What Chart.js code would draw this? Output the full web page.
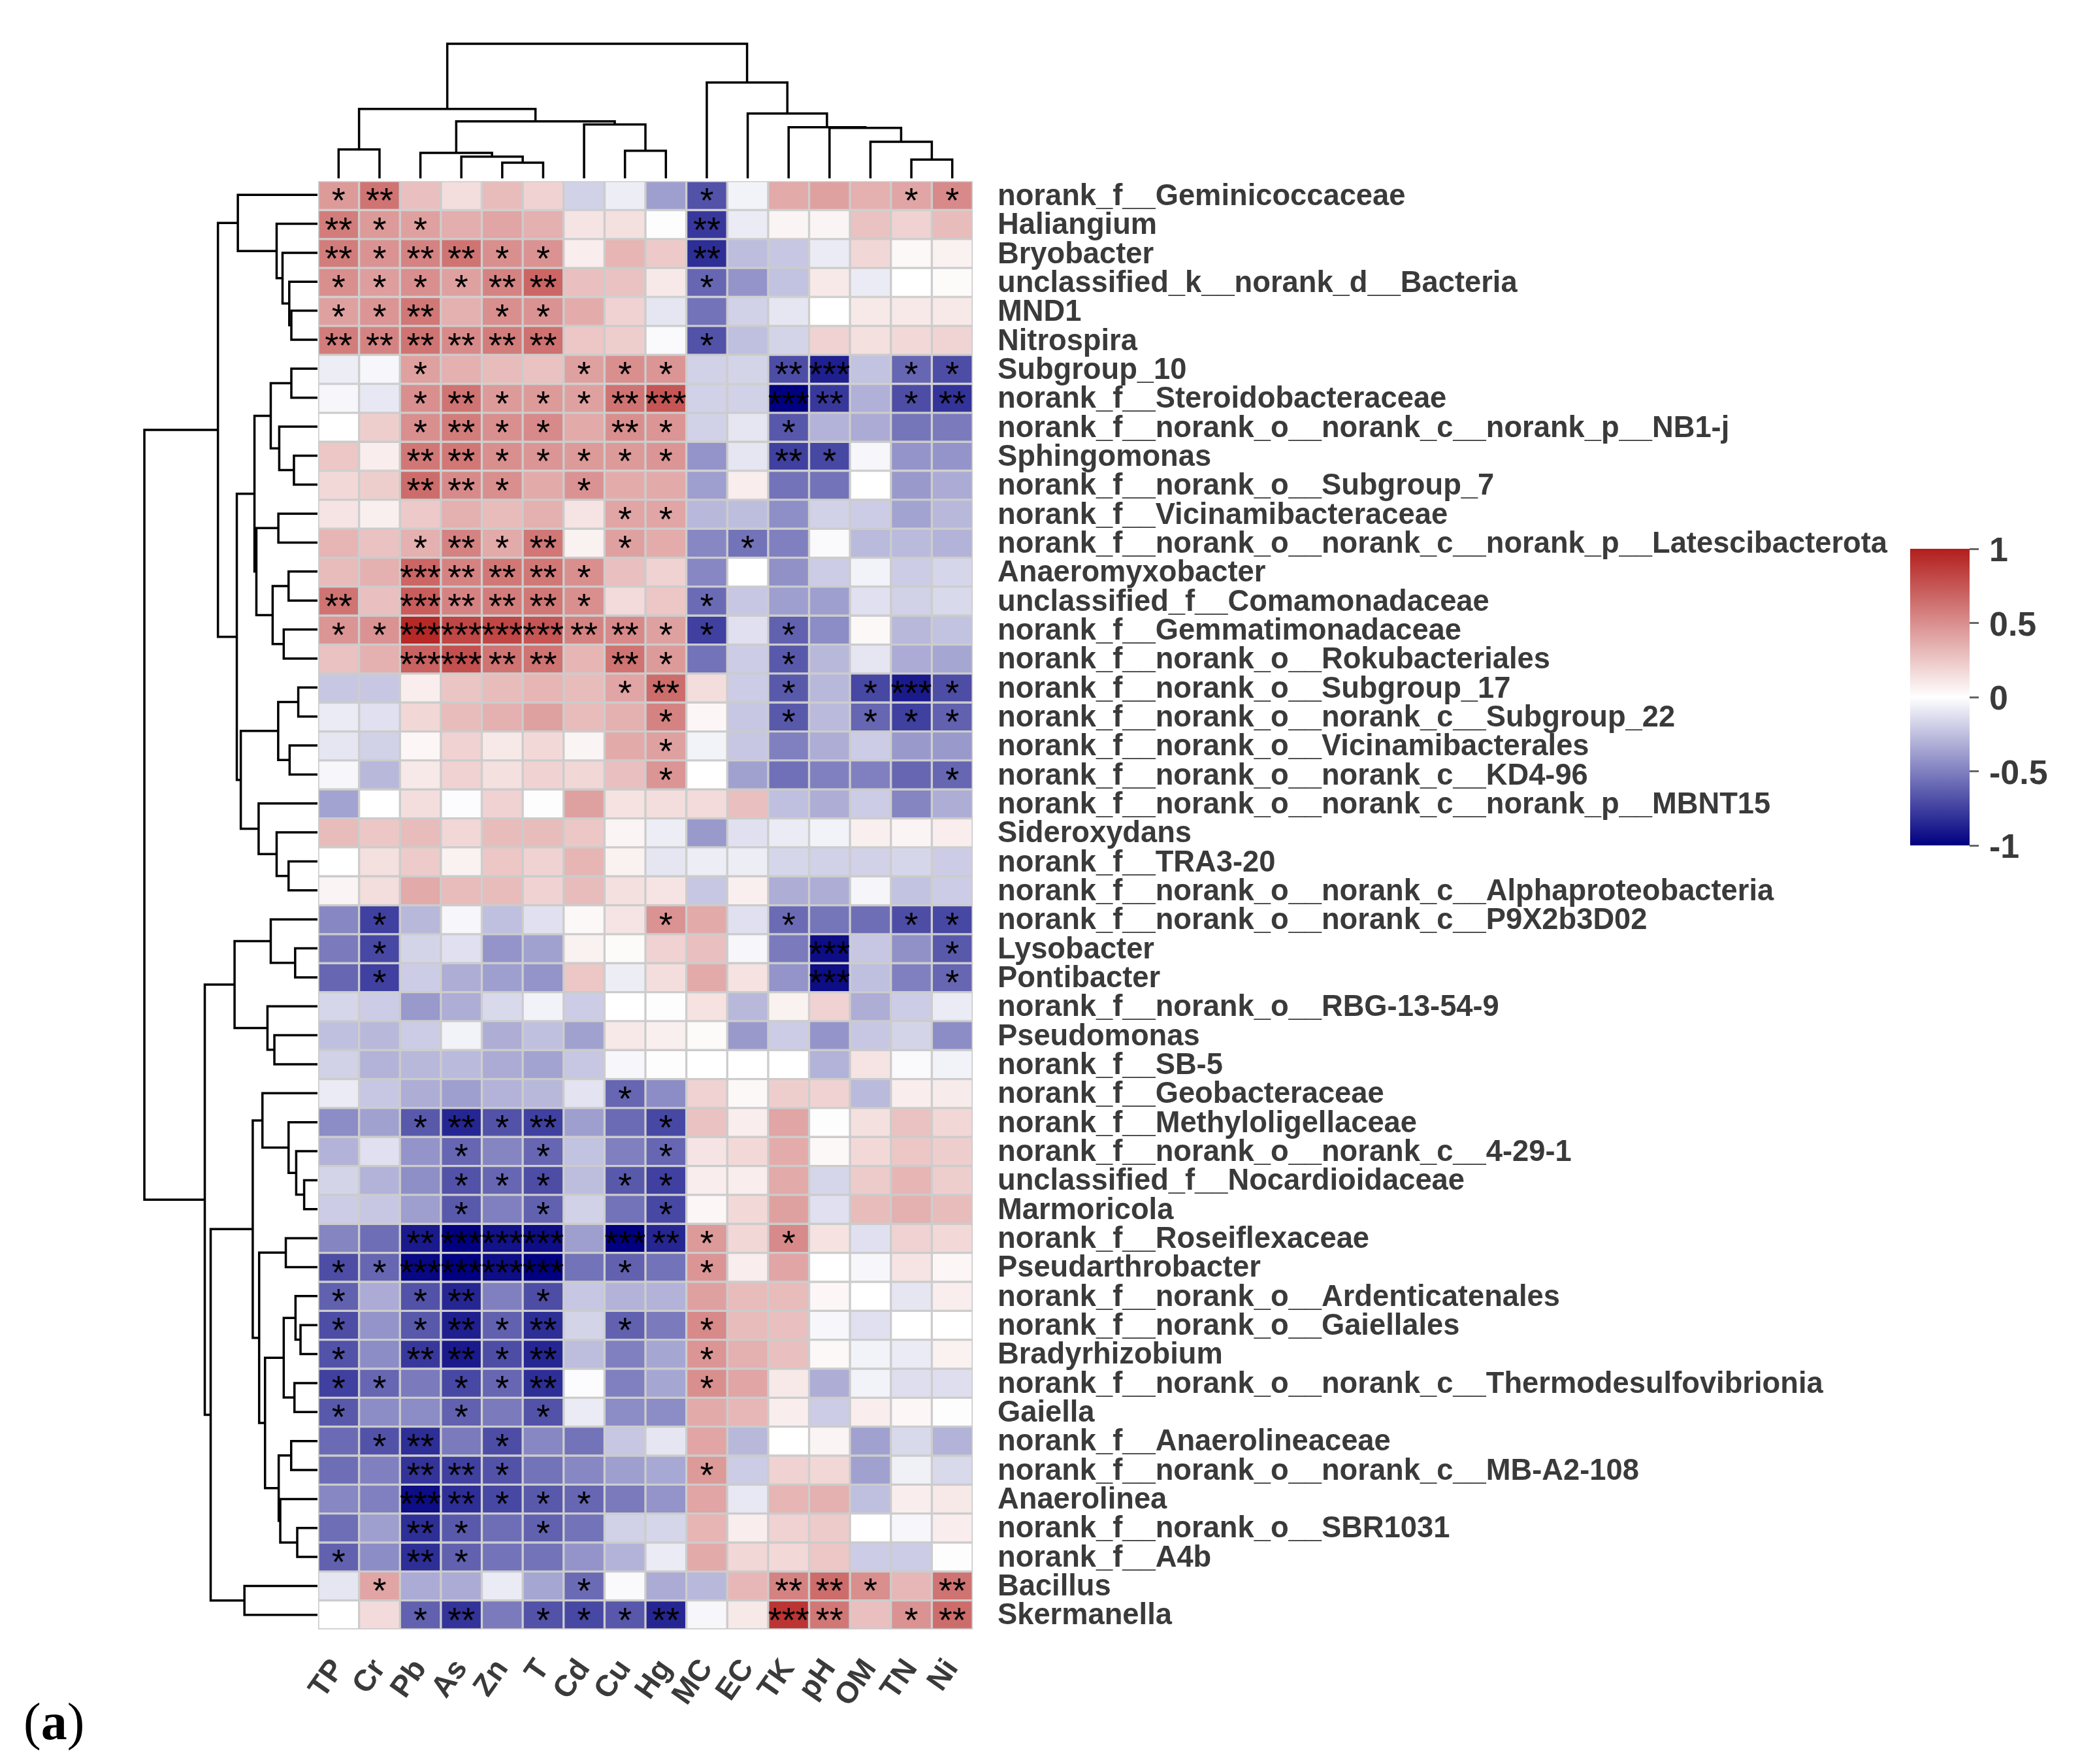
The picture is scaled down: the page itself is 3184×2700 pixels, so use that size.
<!DOCTYPE html>
<html>
<head>
<meta charset="utf-8">
<title>Correlation heatmap</title>
<script src="https://cdn.jsdelivr.net/npm/chart.js@4"></script>
<style>
  body { margin: 0; background: #fff; }
  canvas { position: absolute; }
  #panelLabel { position: absolute; left: 36px; top: 2590px; font: 80px 'Liberation Serif', serif; color: #000; }
</style>
</head>
<body>
<canvas id="topTree" width="1100" height="236" style="left:420px;top:40px"></canvas>
<canvas id="leftTree" width="320" height="2440" style="left:180px;top:230px"></canvas>
<canvas id="heat" width="2784" height="2480" style="left:400px;top:220px"></canvas>
<canvas id="legendBar" width="344" height="620" style="left:2840px;top:760px"></canvas>
<div id="panelLabel">(<b>a</b>)</div>
<script>
const colNames = ['TP', 'Cr', 'Pb', 'As', 'Zn', 'T', 'Cd', 'Cu', 'Hg', 'MC', 'EC', 'TK', 'pH', 'OM', 'TN', 'Ni'];

const rowNames = [
  'norank_f__Geminicoccaceae', 'Haliangium', 'Bryobacter', 'unclassified_k__norank_d__Bacteria', 'MND1',
  'Nitrospira', 'Subgroup_10', 'norank_f__Steroidobacteraceae', 'norank_f__norank_o__norank_c__norank_p__NB1-j',
  'Sphingomonas', 'norank_f__norank_o__Subgroup_7', 'norank_f__Vicinamibacteraceae',
  'norank_f__norank_o__norank_c__norank_p__Latescibacterota', 'Anaeromyxobacter', 'unclassified_f__Comamonadaceae',
  'norank_f__Gemmatimonadaceae', 'norank_f__norank_o__Rokubacteriales', 'norank_f__norank_o__Subgroup_17',
  'norank_f__norank_o__norank_c__Subgroup_22', 'norank_f__norank_o__Vicinamibacterales',
  'norank_f__norank_o__norank_c__KD4-96', 'norank_f__norank_o__norank_c__norank_p__MBNT15', 'Sideroxydans',
  'norank_f__TRA3-20', 'norank_f__norank_o__norank_c__Alphaproteobacteria', 'norank_f__norank_o__norank_c__P9X2b3D02',
  'Lysobacter', 'Pontibacter', 'norank_f__norank_o__RBG-13-54-9', 'Pseudomonas', 'norank_f__SB-5',
  'norank_f__Geobacteraceae', 'norank_f__Methyloligellaceae', 'norank_f__norank_o__norank_c__4-29-1',
  'unclassified_f__Nocardioidaceae', 'Marmoricola', 'norank_f__Roseiflexaceae', 'Pseudarthrobacter',
  'norank_f__norank_o__Ardenticatenales', 'norank_f__norank_o__Gaiellales', 'Bradyrhizobium',
  'norank_f__norank_o__norank_c__Thermodesulfovibrionia', 'Gaiella', 'norank_f__Anaerolineaceae',
  'norank_f__norank_o__norank_c__MB-A2-108', 'Anaerolinea', 'norank_f__norank_o__SBR1031', 'norank_f__A4b',
  'Bacillus', 'Skermanella'
];

// correlation, one row per taxon
const corr = [
  [.45, .62, .28, .15, .3, .2, -.18, -.07, -.38, -.68, -.05, .38, .42, .35, .4, .52],
  [.58, .45, .42, .36, .4, .35, .12, .14, .01, -.78, -.08, .05, .05, .27, .2, .3],
  [.58, .48, .55, .62, .5, .48, .08, .33, .24, -.82, -.26, -.22, -.08, .18, .03, .06],
  [.5, .43, .5, .42, .55, .68, .28, .27, .1, -.6, -.42, -.24, .1, -.08, 0, .02],
  [.42, .47, .6, .35, .5, .48, .37, .2, -.1, -.55, -.18, -.1, 0, .1, .1, .1],
  [.58, .55, .62, .52, .58, .63, .25, .22, -.02, -.68, -.25, -.17, .2, .14, .17, .19],
  [-.07, -.03, .42, .35, .3, .27, .42, .5, .47, -.18, -.17, -.7, -.88, -.24, -.6, -.7],
  [-.03, -.09, .5, .62, .45, .45, .42, .62, .75, -.18, -.18, -1, -.78, -.31, -.7, -.8],
  [0, .22, .5, .58, .5, .52, .38, .5, .47, -.18, -.1, -.66, -.3, -.33, -.54, -.52],
  [.25, .08, .6, .6, .5, .47, .45, .45, .47, -.42, -.1, -.75, -.72, -.03, -.42, -.42],
  [.17, .22, .65, .52, .5, .38, .48, .37, .38, -.38, .08, -.55, -.55, 0, -.4, -.33],
  [.12, .07, .24, .35, .3, .35, .12, .4, .4, -.28, -.26, -.44, -.18, -.2, -.36, -.28],
  [.33, .27, .35, .55, .38, .6, .06, .42, .37, -.47, -.55, -.5, -.02, -.27, -.27, -.3],
  [.3, .35, .68, .55, .6, .6, .5, .28, .2, -.47, 0, -.43, -.2, -.05, -.2, -.16],
  [.62, .28, .72, .55, .58, .6, .5, .16, .25, -.58, -.22, -.38, -.38, -.12, -.18, -.15],
  [.47, .48, .95, .82, .82, .75, .55, .52, .42, -.75, -.12, -.62, -.45, .03, -.28, -.24],
  [.27, .35, .7, .78, .62, .62, .33, .62, .45, -.55, -.2, -.65, -.28, -.1, -.33, -.35],
  [-.22, -.22, .08, .26, .3, .33, .3, .4, .65, .15, -.2, -.65, -.28, -.72, -.9, -.7],
  [-.08, -.12, .18, .3, .35, .42, .3, .35, .55, .04, -.22, -.65, -.27, -.6, -.75, -.62],
  [-.1, -.18, .04, .2, .1, .17, .05, .38, .42, -.05, -.22, -.5, -.32, -.2, -.4, -.4],
  [-.03, -.28, .1, .2, .14, .2, .18, .28, .47, 0, -.37, -.56, -.5, -.5, -.6, -.6],
  [-.36, 0, .15, -.01, .2, .01, .42, .13, .15, .16, .28, -.25, -.32, -.2, -.48, -.32],
  [.3, .25, .3, .18, .3, .3, .25, .05, -.07, -.4, -.12, -.08, -.05, .07, .05, .08],
  [0, .14, .23, .06, .25, .2, .33, .06, -.1, -.07, -.07, -.16, -.18, -.18, -.16, -.2],
  [.05, .15, .38, .3, .3, .2, .3, .14, .12, -.22, .07, -.32, -.32, -.04, -.24, -.2],
  [-.47, -.75, -.28, -.03, -.25, -.12, .03, .12, .48, .38, -.12, -.58, -.54, -.57, -.7, -.72],
  [-.52, -.72, -.17, -.12, -.42, -.37, .06, .02, .2, .28, -.03, -.52, -.95, -.22, -.43, -.65],
  [-.6, -.75, -.2, -.32, -.38, -.42, .25, -.07, .15, .38, .13, -.42, -.95, -.25, -.5, -.6],
  [-.16, -.2, -.4, -.32, -.15, -.05, -.2, 0, .01, .13, -.28, .06, .2, -.32, -.2, -.08],
  [-.25, -.28, -.2, -.05, -.32, -.25, -.37, .1, .07, .02, -.4, -.2, -.42, -.22, -.17, -.45],
  [-.18, -.3, -.28, -.27, -.33, -.36, -.22, -.03, .01, 0, 0, 0, -.3, .12, -.02, -.05],
  [-.08, -.22, -.32, -.38, -.3, -.28, -.11, -.6, -.45, .2, .03, .22, .2, -.27, .08, .09],
  [-.45, -.37, -.65, -.85, -.68, -.75, -.38, -.58, -.72, .27, .08, .4, .01, .14, .27, .18],
  [-.3, -.12, -.42, -.6, -.48, -.6, -.24, -.5, -.6, .12, .17, .37, .03, .17, .25, .22],
  [-.17, -.3, -.44, -.68, -.6, -.7, -.26, -.65, -.75, .08, .08, .38, -.16, .23, .33, .22],
  [-.2, -.22, -.38, -.65, -.5, -.62, -.18, -.55, -.72, .04, .17, .42, -.12, .3, .35, .3],
  [-.48, -.57, -.9, -1, -.93, -.95, -.38, -1, -.85, .45, .18, .52, .13, -.12, .2, .17],
  [-.7, -.6, -.97, -1, -.95, -1, -.55, -.62, -.55, .47, .08, .4, 0, -.03, .12, .04],
  [-.62, -.33, -.68, -.85, -.5, -.7, -.22, -.3, -.3, .42, .3, .3, .04, 0, -.1, .08],
  [-.7, -.42, -.65, -.88, -.62, -.82, -.17, -.62, -.52, .52, .3, .28, -.03, -.12, 0, 0],
  [-.68, -.45, -.78, -.9, -.7, -.85, -.26, -.5, -.35, .47, .35, .28, .03, -.05, -.08, .06],
  [-.75, -.6, -.52, -.72, -.6, -.82, -.01, -.5, -.35, .5, .4, .1, -.32, -.05, -.13, -.13],
  [-.65, -.45, -.45, -.62, -.52, -.68, -.08, -.45, -.45, .38, .32, .08, -.2, .08, .04, .01],
  [-.58, -.68, -.82, -.52, -.7, -.47, -.55, -.22, -.1, .4, -.28, 0, .05, -.37, -.15, -.3],
  [-.57, -.5, -.8, -.75, -.68, -.55, -.47, -.38, -.34, .45, -.2, .2, .18, -.37, -.06, -.15],
  [-.47, -.5, -.95, -.82, -.72, -.65, -.6, -.52, -.42, .4, -.09, .33, .35, -.25, .08, .1],
  [-.57, -.38, -.82, -.65, -.57, -.62, -.55, -.18, -.16, .33, .08, .2, .23, 0, -.03, .08],
  [-.62, -.45, -.82, -.62, -.55, -.55, -.42, -.3, -.08, .38, .18, .17, .25, -.2, -.2, .01],
  [-.1, .4, -.33, -.33, -.08, -.35, -.58, -.02, -.33, -.28, .32, .55, .65, .5, .32, .62],
  [0, .16, -.62, -.8, -.52, -.68, -.72, -.66, -.85, -.03, .1, .9, .6, .28, .48, .65]
];

// number of stars per cell
const stars = [
  '1200000001000011', '2110000002000000', '2122110002000000', '1111220001000000', '1120110000000000',
  '2222220001000000', '0010001110023011', '0012111230032012', '0012110210010000', '0022111110021000',
  '0022101000000000', '0000000110000000', '0012120100100000', '0032221000000000', '2032221001000000',
  '1133332211010000', '0033220210010000', '0000000120010131', '0000000010010111', '0000000010000000',
  '0000000010000001', '0000000000000000', '0000000000000000', '0000000000000000', '0000000000000000',
  '0100000010010011', '0100000000003001', '0100000000003001', '0000000000000000', '0000000000000000',
  '0000000000000000', '0000000100000000', '0012120010000000', '0001010010000000', '0001110110000000',
  '0001010010000000', '0023330321010000', '1133330101000000', '1012010000000000', '1012120101000000',
  '1022120001000000', '1101120001000000', '1001010000000000', '0120100000000000', '0022100001000000',
  '0032111000000000', '0021010000000000', '1021000000000000', '0100001000022102', '0012011120032012'
];

// dendrograms: [left, right, height], a plain number is a leaf index
const colTree = [
  [[0, 1, 21.5],
    [[2, [3, [4, 5, 11.7], 16.2], 18.9], [6, [7, 8, 20.5], 40], 42.4], 51.6],
  [9, [10, [11, [12, [13, [14, 15, 14], 27.2], 37.5], 38], 48.2], 71.2],
  100
];

const rowsUpperA = [0, [1, [2, [3, [4, 5, 15.1], 16.3], 20.2], 23.6], 46];
const rowsUpperB = [[[6, 7, 15.1], [8, [9, 10, 13.6], 22.1], 27],
  [[11, 12, 22.6], [[13, 14, 16.7], [15, 16, 19.5], 25.9], 35.3], 36.4];
const rowsUpperC = [[[17, 18, 11.1], [19, 20, 16.1], 22.7], [21, [22, [23, 24, 16.7], 23.6], 34], 44.3];
const rowsLowerA = [[25, [26, 27, 12.9], 27], [28, [29, 30, 24.9], 28.9], 47.9];
const rowsLowerB = [31, [32, [33, [34, 35, 7.7], 12.3], 16.7], 31.8];
const rowsLowerC = [[[38, [39, 40, 9.8], 12.7], [41, 42, 13.3], 19.5],
  [[43, 44, 15.2], [45, [46, 47, 11.7], 21.5], 22.4], 30.3];
const rowTree = [
  [rowsUpperA, [rowsUpperB, rowsUpperC, 46.6], 57.5],
  [rowsLowerA, [[rowsLowerB, [[36, 37, 18.3], rowsLowerC, 33.7], 37.4], [48, 49, 42.2], 61.7], 65.1],
  100
];

const legendTicks = [-1, -0.5, 0, 0.5, 1];

const navy = [0, 0, 128];
const firebrick = [178, 30, 28];
const labelColor = '#3a3a3a';

function colorFor(v) {
  const end = v < 0 ? navy : firebrick;
  const t = Math.abs(v);
  const ch = end.map(c => Math.round(255 + (c - 255) * t));
  return `rgb(${ch[0]},${ch[1]},${ch[2]})`;
}

// walk a tree and return one path per merge
function treePaths(node, paths) {
  if (typeof node === 'number') return { pos: node + 0.5, h: 0 };
  const a = treePaths(node[0], paths);
  const b = treePaths(node[1], paths);
  const h = node[2];
  paths.push([[a.pos, a.h], [a.pos, h], [b.pos, h], [b.pos, b.h]]);
  return { pos: (a.pos + b.pos) / 2, h: h };
}

function treeDatasets(tree, flip) {
  const paths = [];
  treePaths(tree, paths);
  return paths.map(p => ({
    data: p.map(q => (flip ? { x: q[1], y: q[0] } : { x: q[0], y: q[1] })),
    showLine: true,
    clip: false,
    borderColor: '#000',
    borderWidth: 3.5,
    pointRadius: 0,
    tension: 0
  }));
}

const baseOptions = {
  responsive: false,
  animation: false,
  plugins: { legend: { display: false }, tooltip: { enabled: false } }
};

new Chart(document.getElementById('topTree'), {
  type: 'scatter',
  data: { datasets: treeDatasets(colTree, false) },
  options: {
    ...baseOptions,
    layout: { padding: { left: 67, right: 31, top: 27, bottom: 3 } },
    scales: {
      x: { display: false, min: 0, max: 16 },
      y: { display: false, min: 0, max: 100 }
    }
  }
});

new Chart(document.getElementById('leftTree'), {
  type: 'scatter',
  data: { datasets: treeDatasets(rowTree, true) },
  options: {
    ...baseOptions,
    layout: { padding: { left: 41, right: 14, top: 46, bottom: 176 } },
    scales: {
      x: { display: false, min: 0, max: 100, reverse: true },
      y: { display: false, min: 0, max: 50, reverse: true }
    }
  }
});

// stars are written over the cells, placed with the chart's own scales
const starPlugin = {
  id: 'stars',
  afterDatasetsDraw(chart) {
    const { ctx, scales } = chart;
    ctx.save();
    ctx.font = "54px 'Liberation Sans'";
    ctx.fillStyle = '#000';
    ctx.textAlign = 'center';
    ctx.textBaseline = 'alphabetic';
    stars.forEach((row, r) => {
      row.split('').forEach((n, c) => {
        if (n === '0') return;
        ctx.fillText('*'.repeat(+n), scales.x.getPixelForValue(c), scales.y.getPixelForValue(r + 0.5) + 26);
      });
    });
    ctx.restore();
  }
};

new Chart(document.getElementById('heat'), {
  type: 'bar',
  data: {
    labels: colNames,
    datasets: corr.map((row, r) => ({
      data: row.map(() => [r, r + 1]),
      backgroundColor: row.map(colorFor),
      borderColor: '#cccccc',
      borderWidth: 2,
      borderSkipped: false,
      grouped: false,
      barPercentage: 1,
      categoryPercentage: 1
    }))
  },
  options: {
    ...baseOptions,
    layout: { padding: { left: 87, top: 16 } },
    scales: {
      x: {
        grid: { display: false },
        border: { display: false },
        afterFit: s => { s.height = 206; },
        ticks: {
          autoSkip: false, minRotation: 55, maxRotation: 55, padding: 28,
          color: labelColor, font: { family: 'Liberation Sans', weight: 'bold', size: 46 }
        }
      },
      y: { display: false, min: 0, max: 50, reverse: true },
      rows: {
        type: 'category',
        labels: rowNames,
        position: 'right',
        offset: true,
        grid: { display: false },
        border: { display: false },
        afterFit: s => { s.width = 1695; },
        ticks: {
          autoSkip: false, padding: 30, labelOffset: 2,
          color: labelColor, font: { family: 'Liberation Sans', weight: 'bold', size: 45.3 }
        }
      }
    }
  },
  plugins: [starPlugin]
});

new Chart(document.getElementById('legendBar'), {
  type: 'bar',
  data: {
    labels: [''],
    datasets: [{
      data: [[legendTicks[0], legendTicks[4]]],
      barPercentage: 1,
      categoryPercentage: 1,
      backgroundColor: c => {
        const area = c.chart.chartArea;
        if (!area) return null;
        const g = c.chart.ctx.createLinearGradient(0, area.bottom, 0, area.top);
        legendTicks.forEach((v, i) => g.addColorStop(i / 4, colorFor(v)));
        return g;
      }
    }]
  },
  options: {
    ...baseOptions,
    layout: { padding: { left: 84, top: 80, bottom: 86 } },
    scales: {
      x: { display: false },
      y: {
        position: 'right',
        min: -1,
        max: 1,
        afterFit: s => { s.width = 169; },
        afterBuildTicks: s => { s.ticks = legendTicks.map(v => ({ value: v })); },
        grid: { drawOnChartArea: false, tickLength: 14, tickColor: '#666', tickWidth: 3 },
        border: { display: false },
        ticks: {
          padding: 16, labelOffset: 5,
          callback: v => String(v),
          color: labelColor, font: { family: 'Liberation Sans', weight: 'bold', size: 52 }
        }
      }
    }
  }
});
</script>
</body>
</html>
